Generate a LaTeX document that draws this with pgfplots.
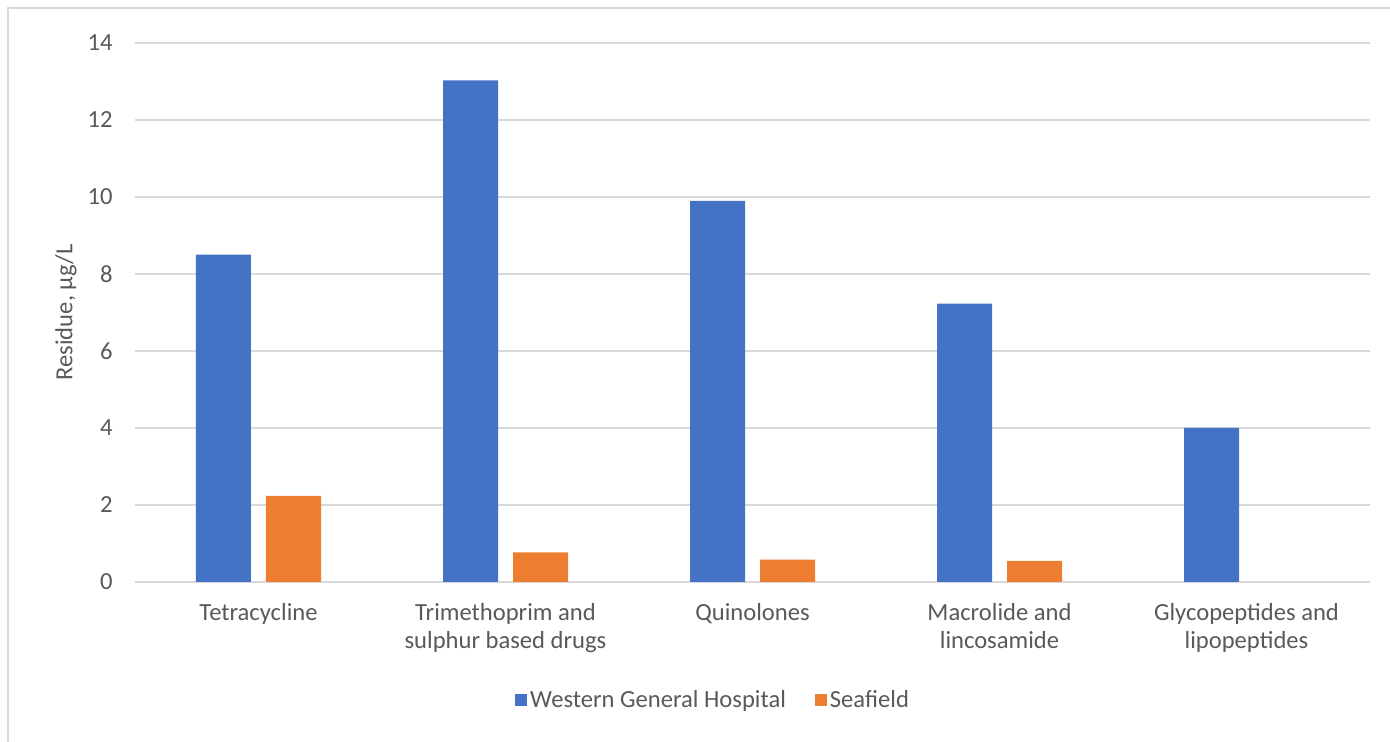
\documentclass[border=0pt]{standalone}
\usepackage{pgfplots}
\pgfplotsset{compat=1.18}
\usepackage{fontspec}
\setmainfont{Carlito}
\definecolor{wgh}{HTML}{4472C4}
\definecolor{sea}{HTML}{ED7D31}
\definecolor{txt}{HTML}{595959}
\definecolor{gridc}{HTML}{D9D9D9}

\begin{document}
\begin{tikzpicture}[x=0.5pt,y=0.5pt]
% picture is 1390 x 742 px at 0.5pt per px, axis box lower-left at origin
\useasboundingbox (-135,-160) rectangle (1255,582);
\draw[gridc, line width=0.75pt] (-127,-160) -- (-127,574) -- (1255,574);
\begin{axis}[
    at={(0pt,0pt)}, anchor=south west,
    scale only axis,
    width=617.5pt, height=269.5pt,
    ybar=7.5pt, bar width=27.5pt,
    xmin=-0.5, xmax=4.5,
    ymin=0, ymax=14,
    xtick={0,...,4},
    xticklabels={Tetracycline, {Trimethoprim and\\sulphur based drugs}, Quinolones, {Macrolide and\\lincosamide}, {Glycopeptides and\\lipopeptides}},
    ytick={0,2,...,14},
    major tick length=0pt,
    axis line style={draw=none},
    ymajorgrids,
    grid style={gridc, line width=0.75pt},
    /pgf/number format/assume math mode=true,
    font=\fontsize{12.3}{14}\selectfont,
    tick label style={text=txt},
    xticklabel style={align=center, anchor=north, inner sep=0pt, yshift=-10.5pt},
    yticklabel style={anchor=east, inner sep=0pt, xshift=-11pt},
    ylabel={Residue, µg/L},
    ylabel style={at={(axis description cs:-0.0559,0.5)}, anchor=center, text=txt},
    legend columns=2,
    legend style={at={(axis description cs:0.4685,-0.219)}, anchor=center, draw=none, fill=none,
        text=txt, inner sep=0pt, nodes={inner sep=1.5pt},
        /tikz/every even column/.append style={column sep=13pt}},
    legend image code/.code={\fill[#1] (0pt,-3pt) rectangle (6pt,3pt);},
]
\addplot[fill=wgh, draw=none] coordinates {(0,8.5) (1,13.03) (2,9.9) (3,7.23) (4,4.0)};
\addplot[fill=sea, draw=none] coordinates {(0,2.24) (1,0.77) (2,0.58) (3,0.55)};
\legend{Western General Hospital, Seafield}
\end{axis}
\end{tikzpicture}
\end{document}
